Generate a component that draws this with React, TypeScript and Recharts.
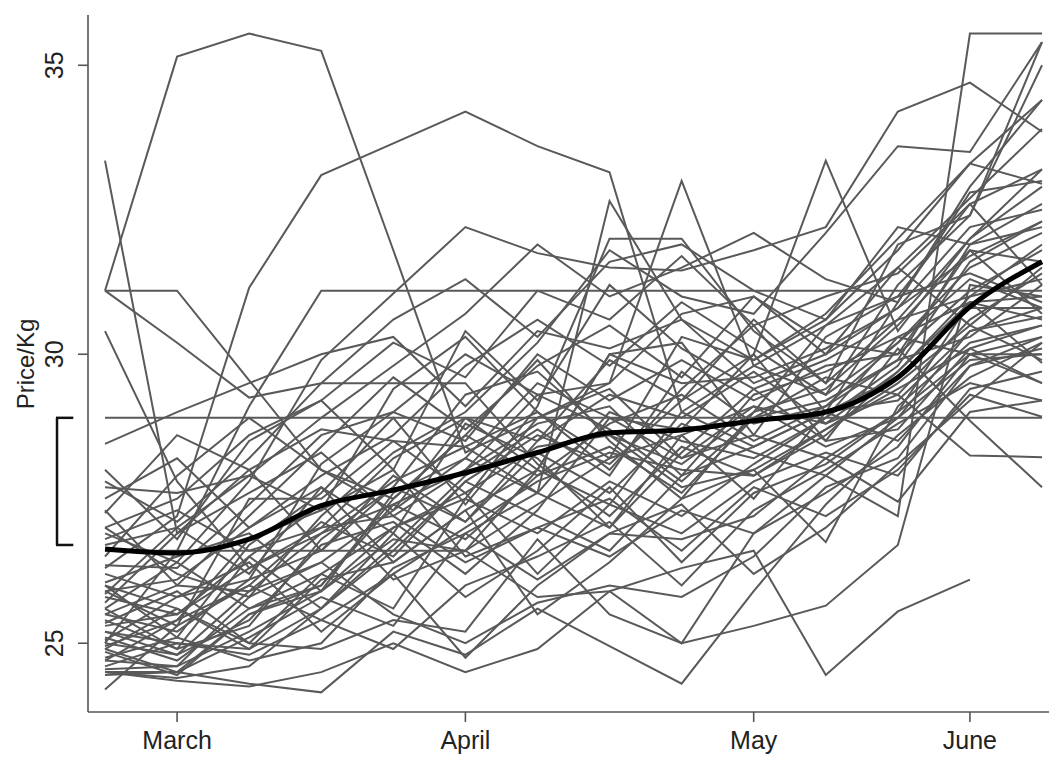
import React from 'react';
import { LineChart, Line, XAxis, YAxis, ReferenceLine, Label } from 'recharts';

// Sampling points (weekly index) and month ticks on the time axis
const weeks = [0, 1, 2, 3, 4, 5, 6, 7, 8, 9, 10, 11, 12, 13];
const monthTicks = [1, 5, 9, 12];
const monthNames = ['March', 'April', 'May', 'June'];
const priceTicks = [25, 30, 35];

// Average price per kg across all markets
const meanPrice = [26.63, 26.56, 26.8, 27.38, 27.65, 27.95, 28.3, 28.64, 28.69, 28.85, 29.0, 29.6, 30.82, 31.6];

// Range marker drawn beside the price axis
const bracketRange = [26.7, 28.9];

// Individual market price series
const m01 = [31.1, 35.15, 35.55, 35.25, 31.8, 28.3, 28.9, 29.4, 28.2, 29.1, 28.8, 29.7, 30.9, 30.6];
const m02 = [26.3, 27.2, 31.15, 33.1, 33.65, 34.2, 33.6, 33.15, 29.0, 29.8, 30.5, 31.0, 32.6, 33.2];
const m03 = [31.1, 31.1, 29.55, 28.0, 27.5, 28.6, 27.9, 28.8, 29.3, 28.5, 29.1, 30.2, 31.3, 30.8];
const m04 = [31.1, 30.2, 29.25, 29.5, 29.5, 29.5, 28.1, 27.2, 28.4, 27.9, 28.7, 29.4, 30.1, 30.5];
const m05 = [25.0, 26.6, 29.1, 31.1, 31.1, 31.1, 31.1, 31.1, 31.1, 31.1, 31.1, 31.1, 31.1, 31.1];
const m06 = [33.35, 26.9, 27.6, 28.3, 27.2, 28.0, 29.3, 28.7, 27.8, 28.9, 29.2, 29.9, 30.3, 31.2];
const m07 = [30.4, 27.8, 26.3, 26.9, 27.8, 28.4, 27.6, 29.0, 28.5, 28.2, 28.9, 30.3, 30.0, 29.5];
const m08 = [28.9, 28.9, 28.9, 28.9, 28.9, 28.9, 28.9, 28.9, 28.9, 28.9, 28.9, 28.9, 28.9, 28.9];
const m09 = [28.45, 29.0, 29.5, 30.0, 30.3, 29.1, 30.4, 30.1, 30.6, 29.5, 30.0, 30.8, 31.7, 32.3];
const m10 = [25.6, 26.4, 27.8, 29.9, 31.05, 32.2, 31.75, 31.5, 31.45, 31.8, 32.2, 34.2, 34.7, 33.85];
const m11 = [27.0, 26.2, 25.8, 27.2, 28.3, 29.0, 30.2, 31.8, 31.0, 30.7, 32.1, 33.6, 33.5, 35.4];
const m12 = [25.5, 25.2, 26.1, 26.6, 27.9, 27.1, 28.3, 27.6, 28.8, 28.3, 27.9, 27.2, 35.55, 35.55];
const m13 = [24.7, 25.4, 26.0, 27.1, 26.5, 27.8, 28.6, 28.1, 29.2, 30.0, 33.35, 30.4, 32.0, 33.2];
const m14 = [26.0, 25.1, 26.7, 27.6, 28.9, 27.4, 28.9, 29.5, 33.0, 29.8, 29.3, 31.2, 32.4, 35.4];
const m15 = [25.2, 24.8, 25.9, 26.4, 27.3, 28.2, 27.6, 32.65, 30.6, 29.9, 30.6, 31.8, 33.3, 34.4];
const m16 = [24.5, 24.5, 25.5, 25.9, 27.0, 27.5, 29.1, 32.0, 32.0, 30.4, 29.5, 30.6, 32.0, 32.9];
const m17 = [25.4, 24.9, 26.5, 27.4, 26.1, 26.6, 25.8, 25.9, 26.3, 26.6, 24.45, 25.55, 26.1, null];
const m18 = [24.9, 25.6, 25.0, 24.9, 25.4, 25.2, 26.8, 25.5, 25.0, 25.3, 25.65, 26.7, 31.2, 31.0];
const m19 = [24.45, 24.5, 24.3, 24.15, 25.2, 24.8, 25.6, 24.95, 24.3, 25.9, 27.4, 28.6, 29.6, 30.2];
const m20 = [24.5, 24.35, 24.25, 24.5, 25.0, 24.5, 24.9, 25.9, 25.0, 26.9, 27.9, 28.9, 30.4, 30.8];
const m21 = [24.2, 25.3, 26.0, 25.4, 26.2, 24.75, 26.0, 26.9, 26.8, 27.2, 28.2, 27.45, 29.0, 29.2];
const m22 = [24.6, 25.0, 24.9, 26.1, 26.4, 27.3, 25.5, 26.4, 27.5, 28.0, 26.75, 29.1, 30.2, 30.5];
const m23 = [25.1, 24.7, 25.6, 26.0, 27.4, 26.8, 27.9, 28.4, 27.6, 28.9, 29.6, 29.3, 28.25, 28.22];
const m24 = [25.9, 26.1, 27.0, 27.7, 26.9, 28.8, 28.2, 27.0, 28.3, 29.4, 28.5, 30.1, 28.85, 27.7];
const m25 = [26.0, 25.6, 24.9, 25.6, 26.7, 27.9, 28.7, 27.9, 29.7, 28.8, 29.1, 29.9, 31.9, 32.6];
const m26 = [27.3, 26.0, 27.2, 28.4, 29.6, 28.7, 29.8, 30.5, 29.6, 31.0, 30.0, 31.5, 32.7, 33.9];
const m27 = [27.5, 28.2, 27.0, 27.9, 28.6, 29.8, 30.6, 29.8, 30.9, 30.1, 29.3, 30.2, 31.5, 32.1];
const m28 = [28.0, 26.8, 28.5, 29.2, 28.0, 30.4, 29.2, 31.2, 30.1, 29.4, 29.9, 30.6, 31.0, 31.9];
const m29 = [27.25, 28.6, 28.0, 26.6, 27.7, 27.1, 28.5, 29.3, 28.9, 29.7, 28.8, 29.3, 30.6, 31.4];
const m30 = [26.8, 27.3, 26.6, 27.0, 28.2, 28.9, 28.0, 30.0, 30.2, 28.6, 30.3, 31.0, 31.4, 30.9];
const m31 = [26.6, 26.6, 26.6, 26.6, 26.6, 26.6, 27.4, 28.2, 28.6, 29.1, 28.4, 28.9, 29.9, 30.0];
const m32 = [25.7, 26.9, 28.0, 28.7, 28.5, 27.6, 28.4, 28.6, 27.7, 28.0, 28.7, 29.5, 30.5, 29.9];
const m33 = [25.9, 25.3, 27.5, 27.5, 28.5, 28.4, 29.0, 28.0, 29.4, 30.5, 29.0, 28.5, 29.8, 30.3];
const m34 = [25.6, 24.9, 25.3, 26.8, 27.7, 29.3, 29.7, 28.6, 28.1, 29.0, 29.4, 30.5, 31.8, 31.6];
const m35 = [25.05, 25.8, 26.4, 25.2, 26.2, 27.0, 27.8, 28.3, 28.0, 27.9, 28.6, 29.7, 31.0, 31.3];
const m36 = [25.0, 24.8, 25.4, 26.7, 27.1, 26.2, 27.3, 28.9, 28.2, 28.6, 28.2, 29.0, 30.0, 30.0];
const m37 = [24.7, 24.6, 25.2, 25.9, 26.8, 26.6, 28.0, 27.4, 29.0, 28.4, 29.0, 29.6, 30.8, 30.8];
const m38 = [25.35, 25.9, 25.0, 26.2, 25.6, 27.5, 26.9, 27.8, 27.2, 28.1, 28.9, 29.8, 31.6, 32.3];
const m39 = [24.5, 24.4, 24.6, 25.6, 26.6, 27.8, 27.2, 26.6, 27.9, 29.3, 29.7, 30.3, 30.9, 29.85];
const m40 = [26.05, 26.5, 26.9, 25.9, 27.6, 28.2, 29.5, 28.9, 28.7, 30.0, 28.5, 28.7, 30.1, 29.5];
const m41 = [25.85, 27.0, 26.2, 27.7, 26.4, 27.3, 28.0, 30.0, 29.5, 29.6, 30.1, 30.8, 32.2, 32.5];
const m42 = [26.35, 26.3, 27.4, 28.6, 29.0, 30.0, 29.3, 29.5, 30.7, 31.0, 30.2, 30.0, 31.8, 30.7];
const m43 = [27.0, 27.5, 28.6, 29.2, 30.2, 29.6, 31.1, 30.6, 31.7, 30.5, 31.0, 31.4, 32.6, 31.2];
const m44 = [25.2, 25.0, 24.8, 25.4, 24.9, 26.0, 26.5, 27.1, 26.0, 27.3, 28.0, 28.8, 29.5, 29.2];
const m45 = [24.55, 24.6, 25.8, 26.4, 25.5, 25.0, 25.7, 26.0, 25.8, 26.5, 27.7, 28.2, 29.8, 30.1];
const m46 = [24.95, 25.4, 26.8, 27.3, 28.0, 26.5, 27.0, 27.5, 26.6, 27.7, 27.2, 28.0, 29.3, 28.92];
const m47 = [26.2, 25.8, 26.1, 28.1, 29.0, 28.5, 30.0, 29.2, 29.9, 29.2, 29.8, 30.0, 31.1, 31.8];
const m48 = [27.7, 27.6, 27.9, 27.3, 29.4, 30.3, 29.0, 28.2, 30.3, 29.9, 30.7, 32.0, 33.3, 32.95];
const m49 = [24.75, 25.1, 24.7, 25.0, 26.3, 26.9, 27.6, 27.0, 28.6, 27.5, 29.0, 29.2, 30.4, 30.65];
const m50 = [25.5, 26.0, 25.9, 26.9, 27.4, 28.0, 28.8, 29.1, 27.9, 28.4, 29.0, 30.9, 32.9, 34.4];
const m51 = [26.5, 27.9, 28.9, 28.0, 27.3, 28.9, 28.5, 29.9, 29.2, 30.6, 29.5, 31.9, 32.4, 35.0];
const m52 = [24.85, 24.45, 25.5, 26.0, 27.5, 28.6, 29.9, 28.5, 27.5, 29.0, 30.5, 31.5, 30.5, 31.5];
const m53 = [25.3, 25.5, 26.3, 27.0, 27.2, 26.4, 27.0, 26.5, 27.3, 26.9, 27.6, 28.4, 30.0, 30.3];
const m54 = [26.9, 26.4, 25.6, 26.2, 27.0, 27.6, 26.2, 27.4, 26.9, 27.8, 28.3, 27.9, 29.4, 29.7];
const m55 = [27.8, 27.1, 28.2, 29.5, 30.6, 31.3, 30.3, 31.6, 31.9, 31.1, 30.6, 32.2, 31.9, 32.2];
const m56 = [26.7, 27.0, 27.9, 28.9, 29.8, 30.7, 31.9, 31.0, 31.5, 32.1, 31.3, 30.9, 32.8, 33.0];
const m57 = [24.9, 24.5, 25.1, 25.8, 25.3, 26.9, 26.1, 26.9, 27.4, 26.2, 27.0, 28.1, 29.2, 30.2];
const m58 = [25.8, 25.5, 26.5, 25.6, 26.9, 25.8, 26.6, 27.7, 26.4, 27.6, 28.1, 29.0, 30.9, 31.0];

const markets: (number | null)[][] = [
  m01, m02, m03, m04, m05, m06, m07, m08, m09, m10, m11, m12, m13, m14, m15,
  m16, m17, m18, m19, m20, m21, m22, m23, m24, m25, m26, m27, m28, m29, m30,
  m31, m32, m33, m34, m35, m36, m37, m38, m39, m40, m41, m42, m43, m44, m45,
  m46, m47, m48, m49, m50, m51, m52, m53, m54, m55, m56, m57, m58,
];

// One row per week, one column per market plus the average
const rows = weeks.map((t, i) => {
  const row: Record<string, number | null> = { t, mean: meanPrice[i] };
  markets.forEach((s, k) => {
    row[`m${k}`] = s[i];
  });
  return row;
});

const FONT = '"Liberation Sans", Arial, Helvetica, sans-serif';
const AXIS_COLOR = '#555';
const SERIES_COLOR = '#595959';

const monthLabel = (v: number) => monthNames[monthTicks.indexOf(v)] ?? '';

const PriceTick = (props: any) => {
  const { y, payload } = props;
  return (
    <g transform={`translate(54,${y})`}>
      <text
        transform="rotate(-90)"
        textAnchor="middle"
        dy="0.36em"
        fontSize={25}
        fontFamily={FONT}
        fill="#222"
      >
        {payload.value}
      </text>
    </g>
  );
};

const priceLabel = () => (
  <text
    x={25}
    y={364}
    transform="rotate(-90 25 364)"
    textAnchor="middle"
    dominantBaseline="central"
    fontSize={24}
    fontFamily={FONT}
    fill="#222"
  >
    Price/Kg
  </text>
);

export default function App() {
  return (
    <div style={{ position: 'absolute', left: 0, top: 0, width: 1049, height: 758, background: '#fff' }}>
      <LineChart
        width={1049}
        height={758}
        data={rows}
        margin={{ top: 15, right: 0, bottom: 0, left: 0 }}
      >
        <XAxis
          type="number"
          dataKey="t"
          domain={[-0.236, 13.097]}
          allowDataOverflow
          ticks={monthTicks}
          tickFormatter={monthLabel}
          height={46}
          stroke={AXIS_COLOR}
          strokeWidth={1.6}
          tickSize={10}
          tickMargin={9}
          tick={{ fontSize: 25, fontFamily: FONT, fill: '#222' }}
        />
        <YAxis
          type="number"
          domain={[23.81, 35.87]}
          allowDataOverflow
          ticks={priceTicks}
          width={88}
          stroke={AXIS_COLOR}
          strokeWidth={1.6}
          tickSize={10}
          tick={<PriceTick />}
        >
          <Label content={priceLabel} />
        </YAxis>

        {markets.map((_, k) => (
          <Line
            key={k}
            dataKey={`m${k}`}
            type="linear"
            stroke={SERIES_COLOR}
            strokeWidth={2}
            dot={false}
            activeDot={false}
            connectNulls={false}
            isAnimationActive={false}
          />
        ))}
        <Line
          dataKey="mean"
          type="monotone"
          stroke="#000"
          strokeWidth={5}
          dot={false}
          activeDot={false}
          isAnimationActive={false}
        />

        {/* range bracket beside the price axis */}
        <ReferenceLine
          ifOverflow="visible"
          stroke="#111"
          strokeWidth={2.5}
          segment={[{ x: -0.666, y: bracketRange[0] }, { x: -0.666, y: bracketRange[1] }]}
        />
        <ReferenceLine
          ifOverflow="visible"
          stroke="#111"
          strokeWidth={2.5}
          segment={[{ x: -0.68, y: bracketRange[1] }, { x: -0.44, y: bracketRange[1] }]}
        />
        <ReferenceLine
          ifOverflow="visible"
          stroke="#111"
          strokeWidth={2.5}
          segment={[{ x: -0.68, y: bracketRange[0] }, { x: -0.44, y: bracketRange[0] }]}
        />
      </LineChart>
    </div>
  );
}
